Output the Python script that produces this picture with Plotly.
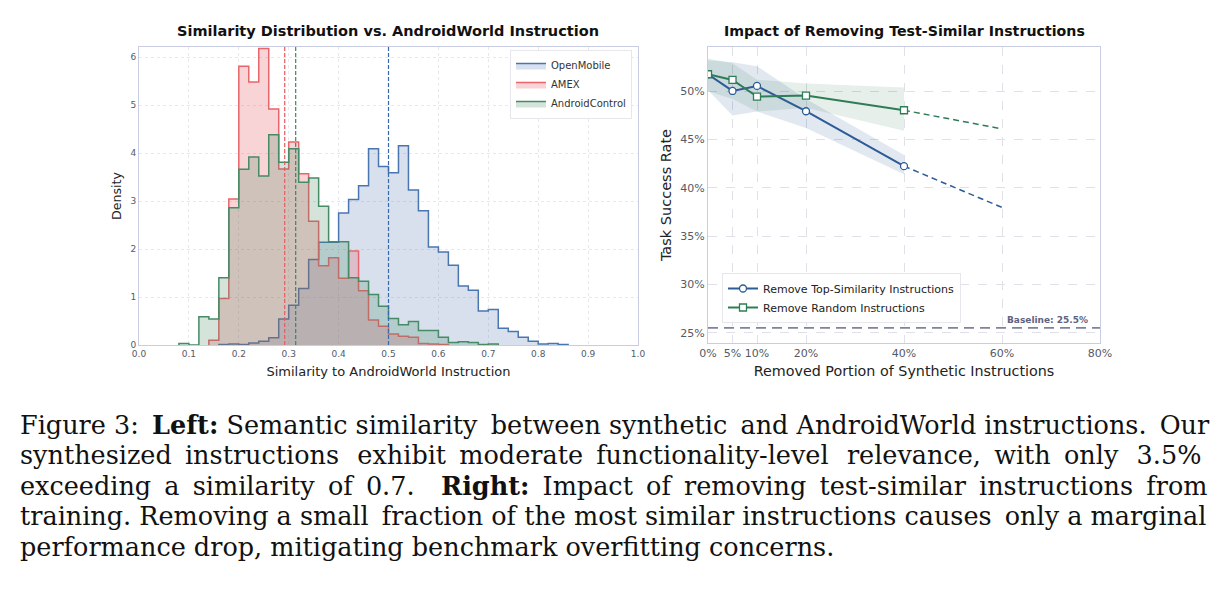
import numpy as np
import plotly.graph_objects as go

# ---------------- Left panel data (density histograms, bin width 0.02 from 0 to 1) ----------------
bin_edges = np.round(np.linspace(0.0, 1.0, 51), 2)
openmobile_density = [0, 0, 0, 0, 0, 0, 0, 0, 0.01, 0.02,
                      0.01, 0.04, 0.08, 0.15, 0.54, 0.83, 1.18, 1.78, 2.14, 2.14,
                      2.75, 3.03, 3.32, 4.09, 3.72, 3.59, 4.15, 3.23, 2.80, 2.04,
                      1.94, 1.66, 1.23, 1.14, 0.71, 0.74, 0.35, 0.28, 0.16, 0.08,
                      0.02, 0.03, 0.01, 0, 0, 0, 0, 0, 0, 0]
amex_density = [0, 0, 0, 0, 0, 0, 0, 0.10, 0.97, 3.04,
                5.81, 5.48, 6.18, 4.92, 3.67, 4.23, 3.57, 2.58, 1.65, 1.82,
                1.39, 1.96, 1.13, 0.52, 0.39, 0.23, 0.18, 0.16, 0.03, 0.02,
                0.01, 0, 0, 0, 0, 0, 0, 0, 0, 0,
                0, 0, 0, 0, 0, 0, 0, 0, 0, 0]
androidcontrol_density = [0, 0, 0, 0, 0.03, 0, 0.59, 0.54, 1.40, 2.86,
                          3.66, 3.92, 3.52, 4.38, 3.81, 4.09, 3.39, 3.48, 2.89, 2.15,
                          2.15, 1.40, 1.33, 1.05, 0.81, 0.55, 0.42, 0.49, 0.30, 0.30,
                          0.16, 0.05, 0.07, 0.05, 0.01, 0.02, 0, 0, 0, 0,
                          0, 0, 0, 0, 0, 0, 0, 0, 0, 0]
dataset_names = ["OpenMobile", "AMEX", "AndroidControl"]
dataset_means = [0.500, 0.292, 0.314]
edge_colors = ["#4a76b0", "#e8666b", "#468a66"]
fill_colors = ["rgba(76,114,176,0.22)", "rgba(232,90,95,0.26)", "rgba(58,130,92,0.22)"]
mean_colors = ["#3a68ad", "#e85a60", "#3d8660"]

# ---------------- Right panel data ----------------
removed_pct = [0, 5, 10, 20, 40]
topsim_mean = [51.76, 50.03, 50.55, 47.93, 42.24]
topsim_low = [50.1, 47.5, 47.9, 46.2, 41.4]
topsim_high = [53.2, 53.0, 52.6, 49.2, 43.4]
random_mean = [51.76, 51.17, 49.45, 49.55, 48.03]
random_low = [50.0, 49.2, 47.9, 48.3, 45.9]
random_high = [53.4, 52.9, 51.2, 50.8, 50.4]
extrap_pct = [40, 60]
topsim_extrap = [42.24, 37.97]
random_extrap = [48.03, 46.10]
baseline_rate = 25.5
x_tick_vals = [0, 5, 10, 20, 40, 60, 80]
y_tick_vals = [25, 30, 35, 40, 45, 50]

W, H = 1222, 590
FONT = "DejaVu Sans"

fig = go.Figure()


def step_xy(heights):
    h = list(heights)
    nz = [i for i, v in enumerate(h) if v > 0]
    i0, i1 = nz[0], nz[-1] + 1
    xs = [bin_edges[i0]] + [bin_edges[i] for i in range(i0, i1)] + [bin_edges[i1]]
    ys = [0] + h[i0:i1] + [0]
    return xs, ys


for name, dens, ec, fc in zip(dataset_names,
                              [openmobile_density, amex_density, androidcontrol_density],
                              edge_colors, fill_colors):
    xs, ys = step_xy(dens)
    fig.add_trace(go.Scatter(x=xs, y=ys, mode="lines", line=dict(color=ec, width=1.5, shape="hv"),
                             fill="tozeroy", fillcolor=fc, name=name, legend="legend",
                             xaxis="x", yaxis="y"))

for m, c in zip(dataset_means, mean_colors):
    fig.add_trace(go.Scatter(x=[m, m], y=[0, 6.21], mode="lines",
                             line=dict(color=c, width=1.2, dash="4px,2px"),
                             showlegend=False, xaxis="x", yaxis="y"))

# Right panel
blue = "#2d5b97"
green = "#2e7d56"
fig.add_trace(go.Scatter(x=removed_pct + removed_pct[::-1], y=topsim_high + topsim_low[::-1],
                         mode="lines", fill="toself", fillcolor="rgba(45,91,151,0.14)", line=dict(width=0),
                         showlegend=False, hoverinfo="skip", xaxis="x2", yaxis="y2"))
fig.add_trace(go.Scatter(x=removed_pct + removed_pct[::-1], y=random_high + random_low[::-1],
                         mode="lines", fill="toself", fillcolor="rgba(46,125,86,0.12)", line=dict(width=0),
                         showlegend=False, hoverinfo="skip", xaxis="x2", yaxis="y2"))
fig.add_trace(go.Scatter(x=[0, 80], y=[baseline_rate, baseline_rate], mode="lines",
                         line=dict(color="#7d829e", width=1.6, dash="10px,6px"),
                         showlegend=False, xaxis="x2", yaxis="y2"))
fig.add_trace(go.Scatter(x=extrap_pct, y=topsim_extrap, mode="lines",
                         line=dict(color=blue, width=1.5, dash="6px,4px"),
                         showlegend=False, xaxis="x2", yaxis="y2"))
fig.add_trace(go.Scatter(x=extrap_pct, y=random_extrap, mode="lines",
                         line=dict(color=green, width=1.5, dash="6px,4px"),
                         showlegend=False, xaxis="x2", yaxis="y2"))
fig.add_trace(go.Scatter(x=removed_pct, y=topsim_mean, mode="lines+markers",
                         name="Remove Top-Similarity Instructions",
                         line=dict(color=blue, width=2),
                         marker=dict(symbol="circle", size=7, color="white", line=dict(color=blue, width=1.3)),
                         legend="legend2", xaxis="x2", yaxis="y2"))
fig.add_trace(go.Scatter(x=removed_pct, y=random_mean, mode="lines+markers",
                         name="Remove Random Instructions",
                         line=dict(color=green, width=2),
                         marker=dict(symbol="square", size=7, color="white", line=dict(color=green, width=1.3)),
                         legend="legend2", xaxis="x2", yaxis="y2"))

frame = "#c8cde3"
tickc = "#555a66"
L_dom_x = [139 / W, 638 / W]
L_dom_y = [1 - 345 / H, 1 - 47 / H]
R_dom_x = [708 / W, 1100 / W]
R_dom_y = [1 - 342.7 / H, 1 - 47.3 / H]

fig.update_layout(
    width=W, height=H, margin=dict(l=0, r=0, t=0, b=0, autoexpand=False),
    paper_bgcolor="white", plot_bgcolor="white",
    font=dict(family=FONT, color="#222"),
    xaxis=dict(domain=L_dom_x, range=[0, 1], tickvals=[i / 10 for i in range(11)],
               ticktext=["0.0", "0.1", "0.2", "0.3", "0.4", "0.5", "0.6", "0.7", "0.8", "0.9", "1.0"],
               showline=True, mirror=True, linecolor=frame, linewidth=1,
               showgrid=True, gridcolor="#e6e7ef", griddash="dot", zeroline=False,
               tickfont=dict(size=9, color=tickc), ticks="", automargin=False,
               title=dict(text="Similarity to AndroidWorld Instruction", font=dict(size=13, color="#222"), standoff=9),
               anchor="y"),
    yaxis=dict(domain=L_dom_y, range=[0, 6.21], tickvals=[0, 1, 2, 3, 4, 5, 6],
               showline=True, mirror=True, linecolor=frame, linewidth=1,
               showgrid=True, gridcolor="#e6e7ef", griddash="dot", zeroline=False,
               tickfont=dict(size=9, color=tickc), ticks="", automargin=False,
               title=dict(text="Density", font=dict(size=12.6, color="#222"), standoff=6),
               anchor="x"),
    xaxis2=dict(domain=R_dom_x, range=[0, 80], tickvals=x_tick_vals,
                ticktext=[f"{v}%" for v in x_tick_vals],
                showline=True, mirror=True, linecolor=frame, linewidth=1,
                showgrid=True, gridcolor="#dfe0e8", griddash="dash", zeroline=False,
                tickfont=dict(size=11, color=tickc), ticks="", automargin=False,
                title=dict(text="Removed Portion of Synthetic Instructions", font=dict(size=14.3, color="#222"), standoff=7),
                anchor="y2"),
    yaxis2=dict(domain=R_dom_y, range=[23.96, 54.55], tickvals=y_tick_vals,
                ticktext=[f"{v}%" for v in y_tick_vals],
                showline=True, mirror=True, linecolor=frame, linewidth=1,
                showgrid=True, gridcolor="#dfe0e8", griddash="dash", zeroline=False,
                tickfont=dict(size=11, color=tickc), ticks="", automargin=False,
                title=dict(text="Task Success Rate", font=dict(size=14.5, color="#222"), standoff=5),
                anchor="x2"),
    legend=dict(x=632 / W, y=1 - 50 / H, xanchor="right", yanchor="top",
                bgcolor="rgba(255,255,255,0.9)", bordercolor="#e6e6ec", borderwidth=1,
                font=dict(size=10, color="#333"), itemwidth=30, tracegroupgap=0),
    legend2=dict(x=722 / W, y=1 - 273 / H, xanchor="left", yanchor="top",
                 bgcolor="rgba(255,255,255,0.9)", bordercolor="#e6e6ec", borderwidth=1,
                 font=dict(size=11, color="#222"), itemwidth=30),
    showlegend=True,
)

annotations = [
    dict(text="<b>Similarity Distribution vs. AndroidWorld Instruction</b>", x=(L_dom_x[0] + L_dom_x[1]) / 2,
         y=1 - 31 / H, xref="paper", yref="paper", showarrow=False, font=dict(size=14.5, color="#111"),
         xanchor="center", yanchor="middle"),
    dict(text="<b>Impact of Removing Test-Similar Instructions</b>", x=(R_dom_x[0] + R_dom_x[1]) / 2,
         y=1 - 31 / H, xref="paper", yref="paper", showarrow=False, font=dict(size=14.2, color="#111"),
         xanchor="center", yanchor="middle"),
    dict(text=f"<b>Baseline: {baseline_rate}%</b>", x=78, y=baseline_rate, xref="x2", yref="y2",
         showarrow=False, xanchor="right", yanchor="bottom", yshift=1,
         font=dict(size=9, color="#5d6380")),
]

TS = "\u2009"  # thin space used to approximate justified lines


def widen(line, base_extra, n_more):
    """Approximate text justification: thin space after every gap (base_extra) plus a few more gaps."""
    words = line.split(" ")
    gaps = len(words) - 1
    picks = set(int(round((i + 0.5) * gaps / n_more)) for i in range(n_more)) if n_more else set()
    out = words[0]
    for i, w in enumerate(words[1:]):
        sep = " " + (TS if base_extra else "") + (TS if i in picks else "")
        out += sep + w
    return out


caption_lines = [
    widen("Figure 3: <b>Left:</b> Semantic similarity between synthetic and AndroidWorld instructions. Our", False, 4),
    widen("synthesized instructions exhibit moderate functionality-level relevance, with only 3.5%", True, 3),
    widen("exceeding a similarity of 0.7.  <b>Right:</b> Impact of removing test-similar instructions from", True, 0),
    widen("training. Removing a small fraction of the most similar instructions causes only a marginal", False, 2),
    "performance drop, mitigating benchmark overfitting concerns.",
]
caption_y = [425, 455, 486, 516, 547]
for line, yc in zip(caption_lines, caption_y):
    annotations.append(dict(text=line, x=18 / W, y=1 - yc / H, xref="paper", yref="paper",
                            showarrow=False, xanchor="left", yanchor="middle",
                            font=dict(family="DejaVu Serif", size=25.5, color="#111")))

fig.update_layout(annotations=annotations)
fig.write_html("out.html")
